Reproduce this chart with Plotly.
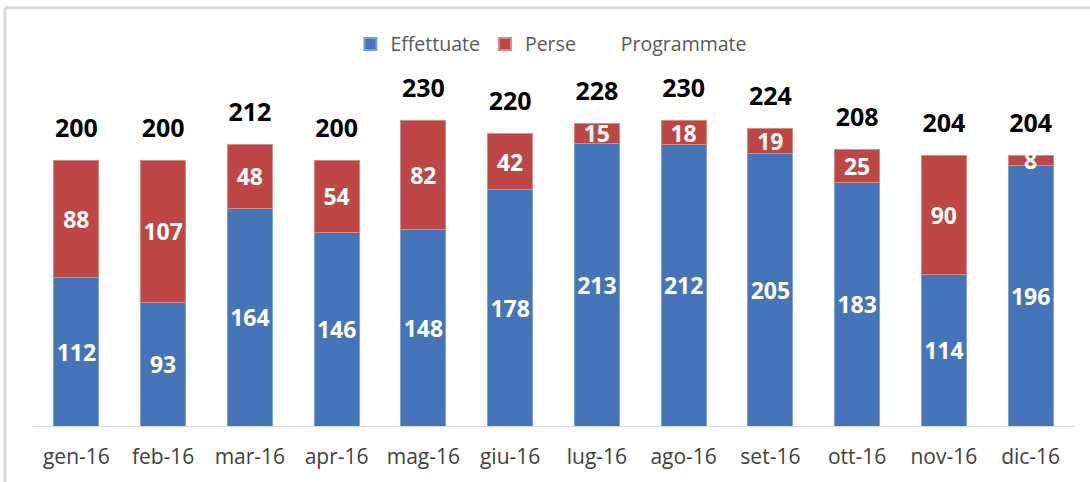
import plotly.graph_objects as go

months = ["gen-16", "feb-16", "mar-16", "apr-16", "mag-16", "giu-16",
          "lug-16", "ago-16", "set-16", "ott-16", "nov-16", "dic-16"]
effettuate = [112, 93, 164, 146, 148, 178, 213, 212, 205, 183, 114, 196]
perse = [88, 107, 48, 54, 82, 42, 15, 18, 19, 25, 90, 8]
programmate = [200, 200, 212, 200, 230, 220, 228, 230, 224, 208, 204, 204]

BLUE = "#4575B8"
RED = "#BC4744"
FONT = "Open Sans"

fig = go.Figure()
fig.add_trace(go.Bar(
    x=months, y=effettuate, name="Effettuate",
    marker=dict(color=BLUE, line=dict(color="#7FA0D0", width=1)),
    text=effettuate, textposition="inside", insidetextanchor="middle",
    constraintext="none", textangle=0, cliponaxis=False,
    textfont=dict(color="white", size=23, family=FONT, weight="bold"),
))
fig.add_trace(go.Bar(
    x=months, y=perse, name="Perse",
    marker=dict(color=RED, line=dict(color="#D88A88", width=1)),
    text=perse, textposition="inside", insidetextanchor="middle",
    constraintext="none", textangle=0, cliponaxis=False,
    textfont=dict(color="white", size=23, family=FONT, weight="bold"),
))
fig.add_trace(go.Scatter(
    x=months, y=programmate, name="Programmate",
    mode="markers+text", cliponaxis=False,
    marker=dict(size=26, color="rgba(0,0,0,0)"),
    text=programmate, textposition="top center",
    textfont=dict(color="black", size=25, family=FONT, weight="bold"),
))

fig.update_layout(
    width=1090, height=482,
    barmode="stack", bargap=0.48,
    plot_bgcolor="white", paper_bgcolor="white",
    margin=dict(l=33, r=16, t=94, b=54),
    font=dict(family=FONT, color="#595959", size=19),
    showlegend=True,
    legend=dict(orientation="h", x=0.498, xanchor="center", y=1.15, yanchor="middle",
                font=dict(size=19.5, color="#595959", family=FONT),
                itemsizing="constant", traceorder="normal"),
    xaxis=dict(showline=True, linecolor="#D9D9D9", linewidth=1, ticks="",
               range=[-0.5, 11.5], ticklabelstandoff=12,
               tickfont=dict(size=21, color="#404040", family=FONT),
               showgrid=False),
    yaxis=dict(range=[0, 250], visible=False, showgrid=False),
    shapes=[
        dict(type="line", xref="paper", yref="paper", x0=-0.0269, x1=1.1, y0=1.26, y1=1.26,
             line=dict(color="#D9D9D9", width=3)),
        dict(type="line", xref="paper", yref="paper", x0=-0.0269, x1=-0.0269, y0=1.26, y1=-0.2,
             line=dict(color="#D9D9D9", width=3)),
    ],
)

fig.write_html("out.html", config={"displayModeBar": False},
               post_script="document.body.style.margin='0';")
